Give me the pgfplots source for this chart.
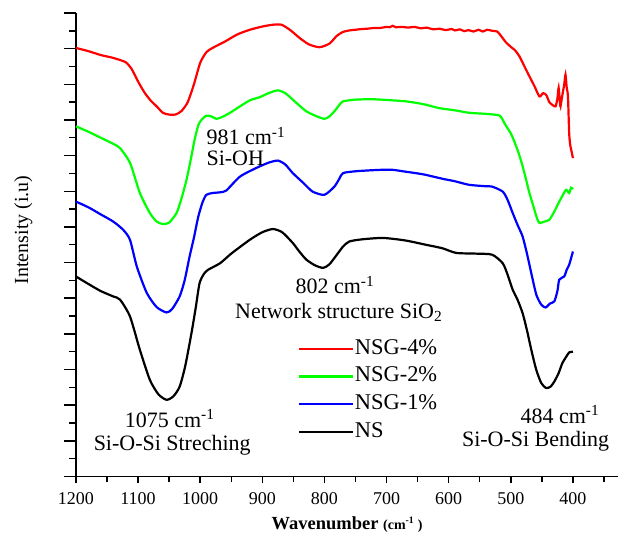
\documentclass[border=0pt]{standalone}
\usepackage{fontspec}
\setmainfont{Liberation Serif}
\usepackage{pgfplots}
\pgfplotsset{compat=1.18}
\definecolor{cred}{RGB}{255,0,0}
\definecolor{cgreen}{RGB}{0,255,0}
\definecolor{cblue}{RGB}{0,0,255}
\begin{document}
\begin{tikzpicture}
\begin{axis}[
  scale only axis,
  width=543pt, height=464pt,
  x dir=reverse,
  xmin=327, xmax=1200,
  ymin=0, ymax=13,
  axis x line=bottom, axis y line=left,
  axis line style={-, line width=1.4pt},
  tick align=outside,
  xtick={400,500,...,1200},
  minor xtick={350,450,...,1150},
  ytick={0,1,...,13},
  minor ytick={0.5,1.5,...,12.5},
  yticklabels={},
  tick style={line width=1.4pt, black},
  major x tick style={/pgfplots/major tick length=7pt},
  minor x tick style={/pgfplots/minor tick length=6pt},
  major y tick style={/pgfplots/major tick length=12pt},
  minor y tick style={/pgfplots/minor tick length=6.5pt},
  /pgf/number format/assume math mode=true,
  /pgf/number format/set thousands separator={},
  xticklabel style={font=\fontsize{18}{20}\selectfont, yshift=-8pt},
  xlabel={\fontsize{18.5}{20}\selectfont\textbf{Wavenumber} {\fontsize{14}{16}\selectfont\textbf{(cm\textsuperscript{-1} )}}},
  every axis x label/.style={at={(axis description cs:0.50,-0.103)}, anchor=center},
  ylabel={\fontsize{20}{22}\selectfont Intensity (i.u)},
  every axis y label/.style={at={(axis description cs:-0.097,0.532)}, rotate=90, anchor=center},
  legend style={draw=none, fill=none, at={(axis description cs:0.403,0.303)}, anchor=north west,
    font=\fontsize{22.5}{25}\selectfont, row sep=6.8pt,
    nodes={inner sep=1pt, text height=15pt, text depth=4pt}},
  legend cell align=left,
  legend image code/.code={\draw[#1] (0pt,0pt) -- (54pt,0pt);},
  every axis plot/.append style={line width=2.2pt, smooth, tension=0.4},
  clip=false,
]
% NSG-4%
\addplot[cred] coordinates {
(1200,12.02)(1180,11.93)(1160,11.82)(1140,11.74)(1120,11.62)(1110,11.42)(1100,11.08)(1090,10.78)
(1080,10.55)(1070,10.38)(1060,10.2)(1050,10.15)(1040,10.15)(1030,10.25)(1020,10.5)(1010,11.0)
(1000,11.6)(990,11.9)(980,12.02)(960,12.2)(940,12.4)(920,12.53)(900,12.62)(883,12.67)(869,12.67)
(855,12.52)(840,12.3)(825,12.12)(808,12.04)(792,12.14)(780,12.36)(770,12.47)(760,12.51)(750,12.53)
(740,12.55)(730,12.56)(720,12.58)(710,12.58)(700,12.61)(695,12.6)(690,12.64)(685,12.6)(675,12.61)
(665,12.59)(655,12.61)(645,12.57)(635,12.59)(625,12.54)(615,12.56)(605,12.52)(595,12.55)(590,12.51)
(582,12.54)(575,12.49)(568,12.52)(560,12.48)(552,12.53)(545,12.48)(538,12.53)(530,12.5)(522,12.48)
(515,12.34)(508,12.18)(500,12.05)(493,11.95)(486,11.78)(478,11.5)(470,11.22)(462,10.95)(454,10.66)
(448,10.75)(443,10.7)(438,10.5)(433,10.42)(428,10.38)(425,10.6)(423,10.9)(421,10.5)(420,10.38)
(417,10.7)(414,11.0)(412,11.27)(410,10.9)(408,10.66)(406,9.6)(404,9.26)(402,9.1)(400,8.93)
};
\addlegendentry{NSG-4\%}
% NSG-2%
\addplot[cgreen] coordinates {
(1200,9.82)(1180,9.67)(1160,9.5)(1140,9.33)(1129,9.21)(1113,8.8)(1097,7.95)(1081,7.39)(1070,7.15)
(1060,7.08)(1050,7.12)(1038,7.39)(1030,7.8)(1022,8.32)(1015,8.9)(1009,9.44)(1003,9.85)(998,10.0)
(990,10.12)(982,10.1)(974,10.03)(965,10.08)(952,10.2)(936,10.38)(920,10.55)(904,10.64)(890,10.75)
(875,10.83)(863,10.75)(851,10.57)(840,10.4)(829,10.24)(815,10.12)(800,10.03)(792,10.1)(784,10.24)
(776,10.42)(770,10.52)(750,10.57)(722,10.58)(700,10.56)(668,10.52)(640,10.44)(615,10.33)(590,10.27)
(567,10.2)(540,10.17)(518,10.12)(510,9.9)(500,9.62)(494,9.38)(487,9.05)(481,8.7)(475,8.3)(470,7.95)
(462,7.48)(458,7.25)(454,7.11)(446,7.15)(438,7.2)(430,7.43)(422,7.71)(416,7.9)(411,8.04)(406,7.95)
(403,8.1)(400,8.06)
};
\addlegendentry{NSG-2\%}
% NSG-1%
\addplot[cblue] coordinates {
(1200,7.71)(1180,7.55)(1160,7.35)(1140,7.15)(1124,6.92)(1113,6.64)(1102,5.89)(1086,5.15)(1070,4.75)
(1054,4.6)(1045,4.7)(1033,5.05)(1025,5.5)(1017,6.17)(1010,6.7)(1003,7.29)(996,7.7)(990,7.9)(980,7.95)
(968,7.97)(958,8.02)(936,8.41)(910,8.65)(890,8.8)(875,8.86)(863,8.75)(851,8.51)(835,8.25)(819,7.99)
(800,7.9)(784,8.13)(776,8.35)(770,8.51)(750,8.56)(733,8.58)(710,8.6)(690,8.6)(670,8.55)(650,8.5)
(637,8.46)(610,8.35)(590,8.28)(567,8.18)(540,8.14)(530,8.13)(513,7.99)(505,7.75)(497,7.39)(489,7.05)
(481,6.73)(474,6.25)(467,5.7)(459,5.1)(451,4.82)(444,4.74)(437,4.85)(430,4.91)(425,5.2)(422,5.52)
(414,5.61)(410,5.8)(406,5.94)(400,6.31)
};
\addlegendentry{NSG-1\%}
% NS
\addplot[black] coordinates {
(1200,5.61)(1180,5.4)(1160,5.2)(1140,5.05)(1129,4.96)(1113,4.49)(1097,3.55)(1081,2.71)(1067,2.3)
(1054,2.15)(1043,2.25)(1033,2.52)(1024,3.1)(1014,4.02)(1007,4.75)(1001,5.42)(994,5.68)(987,5.8)
(968,5.98)(950,6.25)(920,6.64)(900,6.85)(883,6.94)(868,6.85)(851,6.55)(840,6.3)(829,6.08)(815,5.92)
(802,5.85)(792,5.95)(780,6.22)(770,6.45)(760,6.59)(740,6.65)(706,6.69)(670,6.62)(637,6.5)(610,6.4)
(588,6.27)(556,6.25)(530,6.22)(513,5.98)(505,5.65)(497,5.24)(489,4.95)(481,4.58)(474,4.1)(467,3.55)
(459,2.99)(451,2.62)(443,2.48)(436,2.52)(430,2.66)(423,2.9)(417,3.18)(410,3.38)(406,3.48)(400,3.5)
};
\addlegendentry{NS}
\begin{scope}[every node/.style={font=\fontsize{22}{21}\selectfont, inner sep=0pt}]
\node[anchor=north west, align=left] at (axis cs:990,9.8) {981 cm\textsuperscript{-1}\\Si-OH};
\node[anchor=center] at (axis cs:783,5.37) {802 cm\textsuperscript{-1}};
\node[anchor=center] at (axis cs:777,4.6) {Network structure SiO\textsubscript{2}};
\node[anchor=center] at (axis cs:1049,1.62) {1075 cm\textsuperscript{-1}};
\node[anchor=center] at (axis cs:1045,0.88) {Si-O-Si Streching};
\node[anchor=center] at (axis cs:421,1.74) {484 cm\textsuperscript{-1}};
\node[anchor=center] at (axis cs:460,0.98) {Si-O-Si Bending};
\end{scope}
\end{axis}
\path (current axis.south west) ++(-76pt,-59pt) rectangle ([yshift=13pt]current axis.north east);
\end{tikzpicture}
\end{document}
